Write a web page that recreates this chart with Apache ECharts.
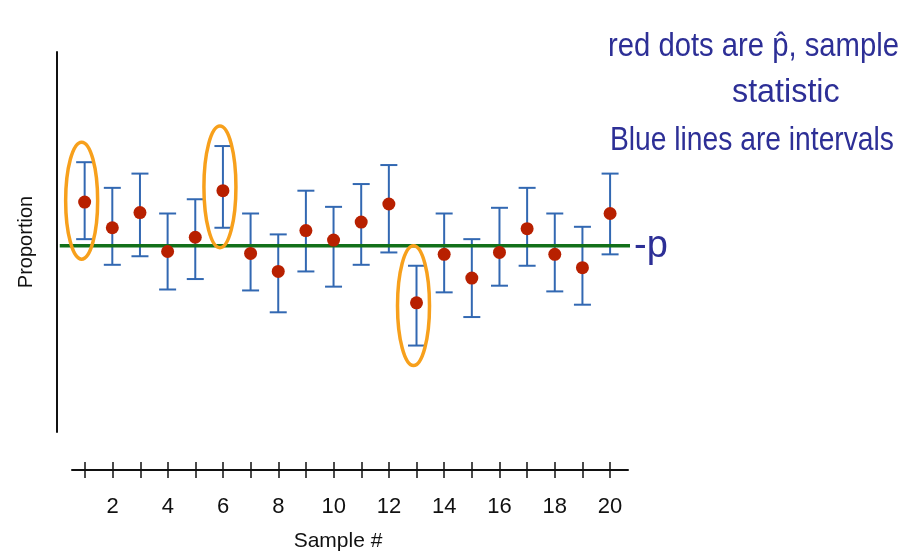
<!DOCTYPE html>
<html>
<head>
<meta charset="utf-8">
<title>Proportion intervals</title>
<script src="https://cdn.jsdelivr.net/npm/echarts@6/dist/echarts.min.js"></script>
<style>
  html, body { margin: 0; padding: 0; background: #fff; }
  #chart { width: 909px; height: 556px; }
</style>
</head>
<body>
<div id="chart"></div>
<script>
// values
var samples = [1, 2, 3, 4, 5, 6, 7, 8, 9, 10, 11, 12, 13, 14, 15, 16, 17, 18, 19, 20];
var pHat  = [0.542, 0.515, 0.531, 0.490, 0.505, 0.554, 0.488, 0.469, 0.512, 0.502,
             0.521, 0.540, 0.436, 0.487, 0.462, 0.489, 0.514, 0.487, 0.473, 0.530];
var lower = [0.503, 0.476, 0.485, 0.450, 0.461, 0.515, 0.449, 0.426, 0.469, 0.453,
             0.476, 0.489, 0.391, 0.447, 0.421, 0.454, 0.475, 0.448, 0.434, 0.487];
var upper = [0.584, 0.557, 0.572, 0.530, 0.545, 0.601, 0.530, 0.508, 0.554, 0.537,
             0.561, 0.581, 0.475, 0.530, 0.503, 0.536, 0.557, 0.530, 0.516, 0.572];
var pTrue = 0.496;
var pLineExtent = [0.1, 20.72];
var circled = [1, 6, 13];
var xTickLabels = [2, 4, 6, 8, 10, 12, 14, 16, 18, 20];

var blue = "#3268b2";
var red = "#b82000";
var green = "#12701a";
var orange = "#f7a01c";
var ink = "#2d2f96";
var hand = "34px 'Liberation Sans', sans-serif";

var chart = echarts.init(document.getElementById("chart"));

var barData = samples.map(function (s, i) { return [s, lower[i], upper[i]]; });
var dotData = samples.map(function (s, i) { return [s, pHat[i]]; });
var circleData = circled.map(function (s) { return [s, lower[s - 1], upper[s - 1]]; });
var pLineData = pLineExtent.map(function (x) { return [x, pTrue]; });

function renderBar(params, api) {
  var lo = api.coord([api.value(0), api.value(1)]);
  var hi = api.coord([api.value(0), api.value(2)]);
  var w = 8.5;
  var st = { stroke: blue, lineWidth: 2 };
  return {
    type: "group",
    children: [
      { type: "line", shape: { x1: lo[0], y1: lo[1], x2: hi[0], y2: hi[1] }, style: st },
      { type: "line", shape: { x1: hi[0] - w, y1: hi[1], x2: hi[0] + w, y2: hi[1] }, style: st },
      { type: "line", shape: { x1: lo[0] - w, y1: lo[1], x2: lo[0] + w, y2: lo[1] }, style: st }
    ]
  };
}

// hand drawn rings round some of the intervals
function renderRing(params, api) {
  var lo = api.coord([api.value(0), api.value(1)]);
  var hi = api.coord([api.value(0), api.value(2)]);
  return {
    type: "ellipse",
    shape: { cx: lo[0] - 3, cy: (lo[1] + hi[1]) / 2, rx: 16, ry: (lo[1] - hi[1]) / 2 + 20 },
    style: { fill: null, stroke: orange, lineWidth: 3.5 }
  };
}

var option = {
  animation: false,
  grid: [
    { left: 57, right: 279, top: 52, bottom: 124 },
    { left: 72, right: 281, top: 462, bottom: 78 }
  ],
  xAxis: [
    { gridIndex: 0, type: "value", min: 0, max: 20.72, show: false },
    {
      gridIndex: 1, type: "value", min: 0.53, max: 20.65, position: "bottom",
      axisLine: { show: false },
      splitLine: { show: false },
      axisTick: { inside: true, length: 16, customValues: samples, lineStyle: { color: "#111", width: 1.5 } },
      axisLabel: {
        customValues: xTickLabels, margin: 18,
        fontFamily: "Liberation Sans", fontSize: 22, color: "#111"
      }
    },
    {
      gridIndex: 1, type: "value", min: 0.53, max: 20.65, position: "bottom", offset: -8,
      axisLine: { show: true, lineStyle: { color: "#111", width: 2 } },
      axisTick: { show: false },
      axisLabel: { show: false },
      splitLine: { show: false },
      name: "Sample #", nameLocation: "middle", nameGap: 61,
      nameTextStyle: { fontFamily: "Liberation Sans", fontSize: 21, color: "#111", padding: [0, 24, 0, 0] }
    }
  ],
  yAxis: [
    {
      gridIndex: 0, type: "value", min: 0.3, max: 0.7,
      axisLine: { show: true, lineStyle: { color: "#111", width: 2 } },
      axisTick: { show: false },
      axisLabel: { show: false },
      splitLine: { show: false },
      name: "Proportion", nameLocation: "middle", nameGap: 21,
      nameTextStyle: { fontFamily: "Liberation Sans", fontSize: 20, color: "#111" }
    },
    { gridIndex: 1, type: "value", min: 0, max: 1, show: false }
  ],
  series: [
    {
      type: "custom", xAxisIndex: 0, yAxisIndex: 0, z: 2,
      renderItem: renderBar, data: barData
    },
    {
      type: "line", xAxisIndex: 0, yAxisIndex: 0, z: 3,
      symbol: "none", silent: true,
      lineStyle: { color: green, width: 3.5 },
      data: pLineData
    },
    {
      type: "scatter", xAxisIndex: 0, yAxisIndex: 0, z: 5,
      symbol: "circle", symbolSize: 13,
      itemStyle: { color: red, opacity: 1 },
      data: dotData
    },
    {
      type: "custom", xAxisIndex: 0, yAxisIndex: 0, z: 6,
      renderItem: renderRing, data: circleData
    }
  ],
  graphic: [
    {
      type: "text", x: 608, y: 30, scaleX: 0.86,
      style: { text: "red dots are p\u0302, sample", fill: ink, font: hand, textVerticalAlign: "top" }
    },
    {
      type: "text", x: 732, y: 76, scaleX: 0.95,
      style: { text: "statistic", fill: ink, font: hand, textVerticalAlign: "top" }
    },
    {
      type: "text", x: 610, y: 124, scaleX: 0.83,
      style: { text: "Blue lines are intervals", fill: ink, font: hand, textVerticalAlign: "top" }
    },
    {
      type: "text", x: 634, y: 228,
      style: { text: "-p", fill: ink, font: "38px 'Liberation Sans', sans-serif", textVerticalAlign: "top" }
    }
  ]
};

chart.setOption(option);
</script>
</body>
</html>
